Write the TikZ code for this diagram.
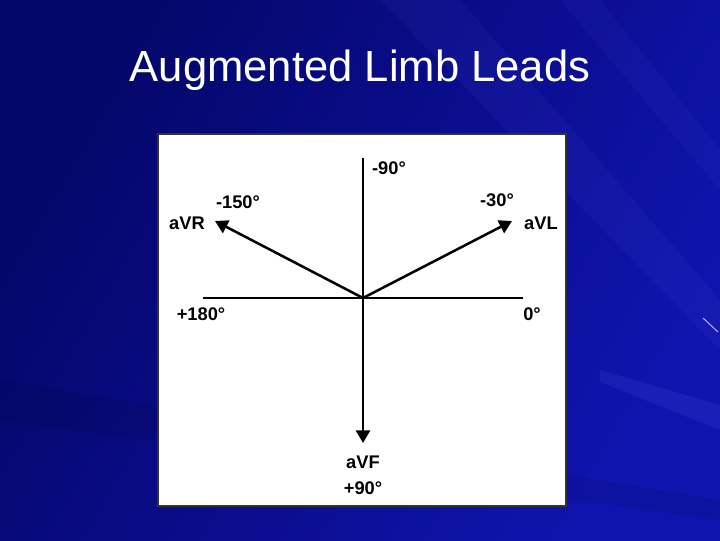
\documentclass[tikz,border=0pt]{standalone}
\usepackage{fontspec}
\setmainfont{Liberation Sans}
\usetikzlibrary{arrows.meta}
\definecolor{slidedark}{RGB}{4,6,105}
\definecolor{slidelight}{RGB}{16,20,175}
\definecolor{streak}{RGB}{120,130,255}
\begin{document}
\begin{tikzpicture}[x=0.025cm,y=-0.025cm,
    axis/.style={line width=1.4pt},
    lead/.style={line width=1.8pt,-{Triangle[length=9pt,width=10pt]}},
    lbl/.style={font=\fontsize{13}{15}\selectfont\bfseries,inner sep=0pt}]
    % Background of the slide
    \shade[left color=slidedark,right color=slidelight,shading angle=60] (0,0) rectangle (720,540);
    \fill[streak,opacity=0.06] (380,0) -- (460,0) -- (720,300) -- (720,350) -- cycle;
    \fill[streak,opacity=0.05] (560,0) -- (600,0) -- (720,150) -- (720,190) -- cycle;
    \fill[streak,opacity=0.10] (600,370) -- (720,405) -- (720,430) -- (600,382) -- cycle;
    \fill[black,opacity=0.08] (0,380) -- (0,420) -- (720,520) -- (720,500) -- cycle;
    \draw[streak!60!white,line width=0.7pt] (703,318) -- (718,332);
    \useasboundingbox (0,0) rectangle (720,540);

    % Title
    \node[text=white,font=\fontsize{31}{36}\selectfont] (title) at (360,70) {Augmented Limb Leads};

    % White panel
    \draw[fill=white,draw=black!80,line width=1.4pt] (158,134) rectangle (566,506);

    % Axes
    \coordinate (o) at (363,298);
    \coordinate (top) at (363,158);
    \coordinate (left) at (203,298);
    \coordinate (right) at (523,298);
    \draw[axis] (top) -- (o);
    \draw[axis] (left) -- (right);

    % Lead vectors
    \coordinate (avr) at (215,221);
    \coordinate (avl) at (512,221);
    \coordinate (avf) at (363,443);
    \draw[lead] (o) -- (avr);
    \draw[lead] (o) -- (avl);
    \draw[lead] (o) -- (avf);

    % Labels
    \node[lbl] (m90) at (389,168) {-90°};
    \node[lbl] (m150) at (238,202) {-150°};
    \node[lbl] (avrlbl) at (187,223) {aVR};
    \node[lbl] (m30) at (497,200) {-30°};
    \node[lbl] (avllbl) at (541,223) {aVL};
    \node[lbl] (p180) at (201,314) {+180°};
    \node[lbl] (zero) at (532,314) {0°};
    \node[lbl] (avflbl) at (363,462) {aVF};
    \node[lbl] (p90) at (363,488) {+90°};
\end{tikzpicture}
\end{document}
